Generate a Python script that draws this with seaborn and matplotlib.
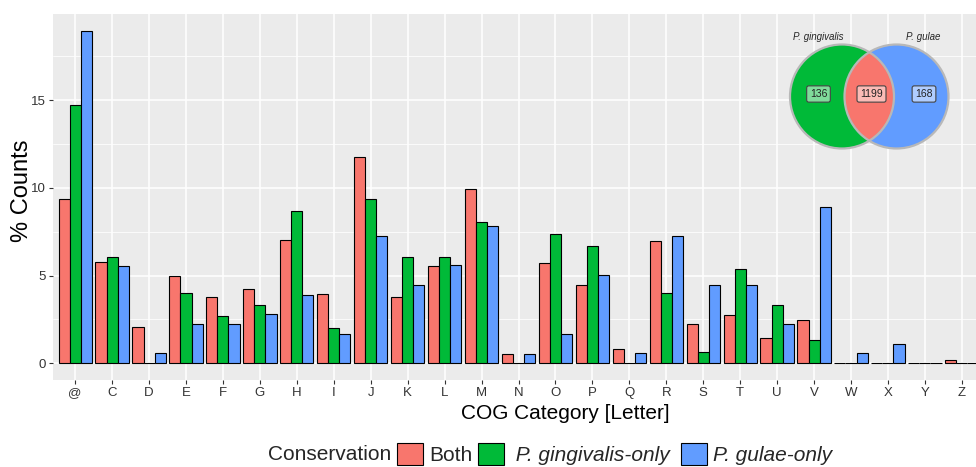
import matplotlib
matplotlib.use("Agg")
import matplotlib.pyplot as plt
from matplotlib.patches import Circle, Patch
from matplotlib.ticker import MultipleLocator
import pandas as pd
import seaborn as sns

# COG category letters on the x axis
categories = ["@", "C", "D", "E", "F", "G", "H", "I", "J", "K", "L", "M", "N",
              "O", "P", "Q", "R", "S", "T", "U", "V", "W", "X", "Y", "Z"]

# Percent of genes per COG category for each conservation group
both = [9.39, 5.76, 2.07, 5.00, 3.78, 4.24, 7.03, 3.94, 11.79, 3.78, 5.55, 9.92, 0.53,
        5.70, 4.49, 0.83, 6.99, 2.24, 2.77, 1.46, 2.47, 0.00, 0.00, 0.00, 0.17]
gingivalis_only = [14.73, 6.05, 0.00, 4.01, 2.68, 3.34, 8.71, 2.01, 9.37, 6.05, 6.05, 8.06, 0.00,
                   7.38, 6.71, 0.00, 4.01, 0.66, 5.38, 3.34, 1.33, 0.00, 0.00, 0.00, 0.00]
gulae_only = [18.97, 5.57, 0.57, 2.24, 2.24, 2.81, 3.90, 1.69, 7.24, 4.47, 5.59, 7.83, 0.55,
              1.69, 5.04, 0.57, 7.26, 4.47, 4.47, 2.24, 8.94, 0.57, 1.12, 0.00, 0.00]

groups = ["Both", "P. gingivalis-only", "P. gulae-only"]
palette = ["#F8766D", "#00BA38", "#619CFF"]

# Venn diagram of shared / unique gene counts
venn_sets = ["P. gingivalis", "P. gulae"]
venn_counts = [136, 1199, 168]  # gingivalis-only, shared, gulae-only

df = pd.DataFrame({
    "COG": categories * 3,
    "Conservation": [g for g in groups for _ in categories],
    "pct": both + gingivalis_only + gulae_only,
})

sns.set_theme(style="darkgrid")
plt.rcParams["font.family"] = ["Liberation Sans", "DejaVu Sans"]

W, H = 976, 467
fig = plt.figure(figsize=(W / 100, H / 100), dpi=100)
fig.patch.set_facecolor("white")


def fig_rect(x0, y0, x1, y1):
    """Pixel box (top-left origin) to figure fraction rect."""
    return [x0 / W, 1 - y1 / H, (x1 - x0) / W, (y1 - y0) / H]


ax = fig.add_axes(fig_rect(53, 14, 984, 380))
ax.set_facecolor("#EBEBEB")

sns.barplot(data=df, x="COG", y="pct", hue="Conservation", hue_order=groups,
            order=categories, palette=palette, width=0.9, saturation=1,
            edgecolor="black", linewidth=0.8, errorbar=None, legend=False, ax=ax)

ax.set_xlim(-0.6, len(categories) - 0.4)
ax.set_ylim(-0.95, 19.92)
ax.yaxis.set_major_locator(MultipleLocator(5))
ax.yaxis.set_minor_locator(MultipleLocator(2.5))
ax.grid(which="major", color="white", linewidth=1.1)
ax.grid(which="minor", axis="y", color="white", linewidth=0.55)
ax.set_axisbelow(True)
for s in ax.spines.values():
    s.set_visible(False)

ax.tick_params(axis="both", which="major", length=3, width=0.8, color="#333333",
               labelsize=9.5, labelcolor="#333333", pad=2, bottom=True, left=True)
ax.tick_params(axis="y", which="minor", length=0)
ax.set_xlabel("COG Category [Letter]", fontsize=15, color="black")
ax.set_ylabel("% Counts", fontsize=17, color="black")
ax.xaxis.set_label_coords(565 / W, 1 - 404 / H, transform=fig.transFigure)
ax.yaxis.set_label_coords(33 / W, 1 - 191 / H, transform=fig.transFigure)

# Legend along the bottom
fig.text(268 / W, 1 - 454 / H, "Conservation", fontsize=15, va="center", ha="left")
handles = [Patch(facecolor=c, edgecolor="black", linewidth=0.8) for c in palette]
labels = ["Both", " " + groups[1] + " ", groups[2]]
leg = fig.legend(handles, labels, loc="center left", bbox_to_anchor=(397 / W, 1 - 454 / H),
                 ncol=3, frameon=False, fontsize=15, handlelength=1.25, handleheight=1.25,
                 handletextpad=0.3, columnspacing=0.25, borderpad=0, borderaxespad=0)
for t in leg.get_texts()[1:]:
    t.set_fontstyle("italic")

# Venn diagram inset
vax = fig.add_axes(fig_rect(770, 20, 970, 160))
vax.set_xlim(770, 970)
vax.set_ylim(160, 20)
vax.axis("off")
r = 52
c1 = (842, 96.5)
c2 = (896.5, 96.5)
edge = "#B8B8B8"
vax.add_patch(Circle(c1, r, facecolor=palette[1], edgecolor="none"))
blue = Circle(c2, r, facecolor=palette[2], edgecolor="none")
vax.add_patch(blue)
lens = Circle(c1, r, facecolor=palette[0], edgecolor="none")
vax.add_patch(lens)
lens.set_clip_path(blue)
vax.add_patch(Circle(c1, r, facecolor="none", edgecolor=edge, linewidth=1.6))
vax.add_patch(Circle(c2, r, facecolor="none", edgecolor=edge, linewidth=1.6))

vax.text(818, 37, venn_sets[0], fontsize=7, style="italic", ha="center", va="center")
vax.text(923, 37, venn_sets[1], fontsize=7, style="italic", ha="center", va="center")
box_fill = ["#80DC9B", "#FBBBB6", "#B0CDFF"]
for x, n, f in zip([818.5, 871.5, 924], venn_counts, box_fill):
    vax.text(x, 94, str(n), fontsize=7.5, ha="center", va="center", color="#222222",
             bbox=dict(boxstyle="round,pad=0.3,rounding_size=0.2", facecolor=f,
                       edgecolor="#444444", linewidth=0.8))

fig.savefig("out.png", dpi=100)
